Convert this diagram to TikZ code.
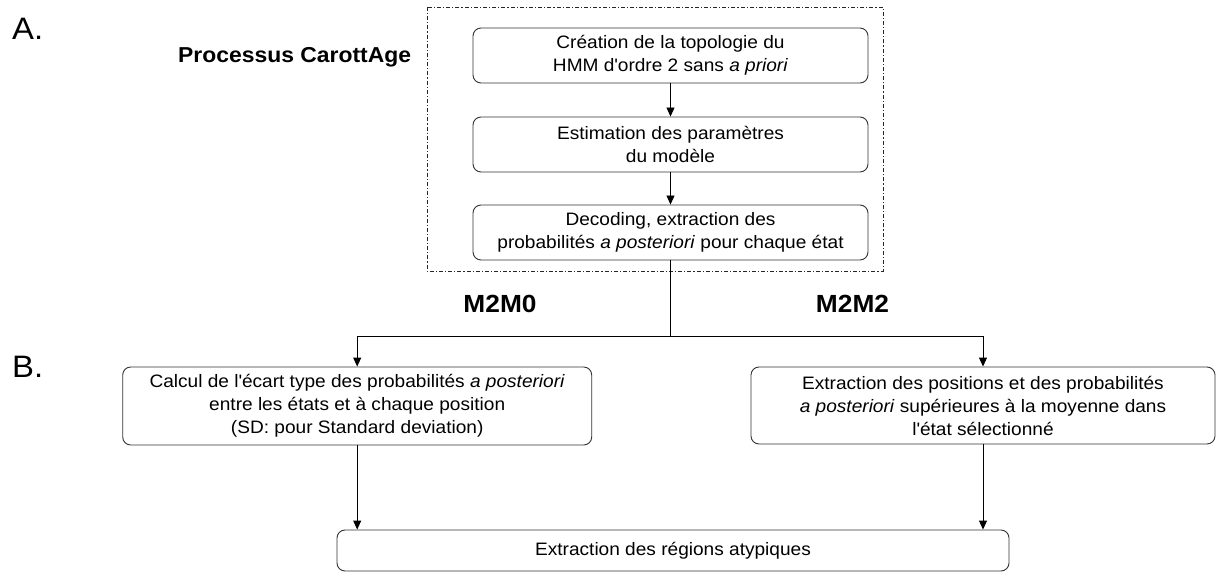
\documentclass[tikz,border=0pt]{standalone}
\usepackage{fontspec}
\setmainfont[FakeStretch=1.06]{Liberation Sans}
\usetikzlibrary{arrows.meta,calc}

\newcommand{\sq}{\textquotesingle}

\begin{document}
\begin{tikzpicture}[x=1pt,y=-1pt,
  stepbox/.style={draw=black!80, line width=0.9pt, rounded corners=8pt,
    align=center, inner sep=0pt, font=\fontsize{18}{23}\selectfont},
  flow/.style={draw=black, line width=0.9pt,
    -{Triangle[length=9pt,width=8pt]}},
  plain/.style={draw=black, line width=0.9pt},
  section/.style={font=\fontsize{31}{34}\selectfont, anchor=base west, inner sep=0pt},
  variant/.style={font=\bfseries\fontsize{24.8}{27}\selectfont, inner sep=0pt},
  group/.style={draw=black!85, line width=0.8pt,
    dash pattern=on 4pt off 2pt on 1.2pt off 2pt}]

\useasboundingbox (0,0) rectangle (1216,572);

% section letters
\node[section] (lA) at (12,40) {A.};
\node[section] (lB) at (12,377) {B.};

% CarottAge process, framed in dash-dot
\draw[group] (427,7) rectangle (883,271);
\node[font=\bfseries\fontsize{21.6}{24}\selectfont, anchor=base west, inner sep=0pt]
  (proc) at (178,63) {Processus CarottAge};

\node[stepbox, minimum width=395pt, minimum height=55pt] (b1) at (670.5,55.5)
  {Création de la topologie du\\HMM d\sq ordre 2 sans \textit{a priori}};
\node[stepbox, minimum width=395pt, minimum height=55pt] (b2) at (670.5,144.5)
  {Estimation des paramètres\\du modèle};
\node[stepbox, minimum width=395pt, minimum height=55pt] (b3) at (670.5,232.5)
  {Decoding, extraction des\\probabilités \textit{a posteriori} pour chaque état};

\draw[flow] (b1) -- (b2);
\draw[flow] (b2) -- (b3);

% branch into the two methods
\coordinate (split) at (670.5,336);
\node[variant] (m0) at (500,304) {M2M0};
\node[variant] (m2) at (852.5,304) {M2M2};

\node[stepbox, minimum width=469pt, minimum height=78pt] (b4) at (357.2,406)
  {Calcul de l\sq écart type des probabilités \textit{a posteriori}\\
   entre les états et à chaque position\\
   (SD: pour Standard deviation)};
\node[stepbox, minimum width=464pt, minimum height=77pt] (b5) at (983,405.5)
  {Extraction des positions et des probabilités\\
   \textit{a posteriori} supérieures à la moyenne dans\\
   l\sq état sélectionné};

\draw[plain] (b3.south) -- (split);
\draw[flow] (split) -| (b4.north);
\draw[flow] (split) -| (b5.north);

% common final step
\node[stepbox, minimum width=672pt, minimum height=41pt] (b6) at (673,550.5)
  {Extraction des régions atypiques};

\draw[flow] (b4.south) -- (b4.south |- b6.north);
\draw[flow] (b5.south) -- (b5.south |- b6.north);

\end{tikzpicture}
\end{document}
